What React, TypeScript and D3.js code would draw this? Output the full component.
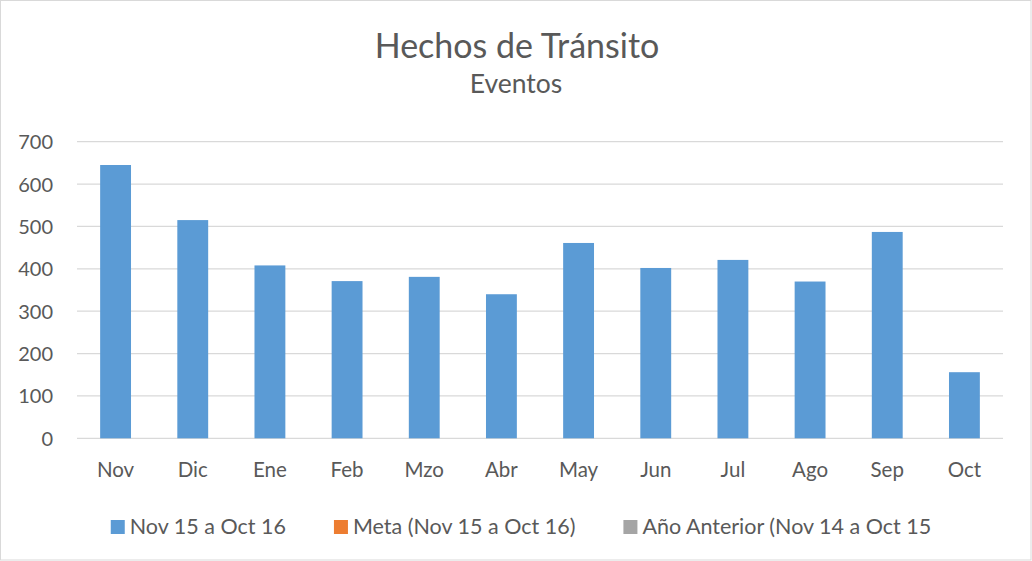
import { useEffect, useRef } from "react";
import * as d3 from 'd3';

const months = ['Nov', 'Dic', 'Ene', 'Feb', 'Mzo', 'Abr', 'May', 'Jun', 'Jul', 'Ago', 'Sep', 'Oct'];
const eventos = [645, 515, 408, 371, 381, 340, 461, 402, 421, 370, 487, 156];
const yTicks = [0, 100, 200, 300, 400, 500, 600, 700];
const legendNames = ['Nov 15 a Oct 16', 'Meta (Nov 15 a Oct 16)', 'Año Anterior (Nov 14 a Oct 15'];
const legendColors = ['#5B9BD5', '#ED7D31', '#A5A5A5'];

const W = 1032;
const H = 561;
const FONT = 'Lato, "Open Sans", sans-serif';
const TEXT = '#595959';
const GRID = '#d9d9d9';

export default function App() {
    const svgEl = useRef(null);

    useEffect(() => {
        const svg = d3.select(svgEl.current);
        svg.selectChildren().remove();

        const plot = { left: 77, right: 1003, top: 141.7, bottom: 438.3 };

        const x = d3.scaleBand()
            .domain(months)
            .range([plot.left, plot.right])
            .paddingInner(0.6)
            .paddingOuter(0.3);

        const y = d3.scaleLinear()
            .domain([0, 700])
            .range([plot.bottom, plot.top]);

        svg.append('rect')
            .attr('x', 0.5).attr('y', 0.5)
            .attr('width', W - 1.5).attr('height', H - 1.5)
            .attr('fill', 'white')
            .attr('stroke', GRID);

        // title
        svg.append('text')
            .attr('x', 517).attr('y', 57.5)
            .attr('text-anchor', 'middle')
            .attr('font-family', FONT).attr('font-size', 34)
            .attr('fill', TEXT)
            .text('Hechos de Tránsito');
        svg.append('text')
            .attr('x', 516).attr('y', 92.5)
            .attr('text-anchor', 'middle')
            .attr('font-family', FONT).attr('font-size', 26.5)
            .attr('fill', TEXT)
            .text('Eventos');

        // grid
        svg.append('g').selectAll('line').data(yTicks)
            .join('line')
            .attr('x1', plot.left).attr('x2', plot.right)
            .attr('y1', d => y(d)).attr('y2', d => y(d))
            .attr('stroke', GRID)
            .attr('stroke-width', 1.3);

        svg.append('g').selectAll('text').data(yTicks)
            .join('text')
            .attr('x', 53).attr('y', d => y(d) + 7.5)
            .attr('text-anchor', 'end')
            .attr('font-family', FONT).attr('font-size', 20)
            .attr('fill', TEXT)
            .text(d => d);

        // bars
        svg.append('g').selectAll('rect').data(eventos)
            .join('rect')
            .attr('x', (_, i) => x(months[i])!)
            .attr('width', x.bandwidth())
            .attr('y', d => y(d))
            .attr('height', d => y(0) - y(d))
            .attr('fill', legendColors[0]);

        svg.append('g').selectAll('text').data(months)
            .join('text')
            .attr('x', d => x(d)! + x.bandwidth() / 2)
            .attr('y', 476.5)
            .attr('text-anchor', 'middle')
            .attr('font-family', FONT).attr('font-size', 20.5)
            .attr('fill', TEXT)
            .text(d => d);

        // legend
        const lg = svg.append('g');
        const items = lg.selectAll('g').data(legendNames).join('g');
        items.append('rect')
            .attr('width', 14).attr('height', 14)
            .attr('y', 520)
            .attr('fill', (_, i) => legendColors[i]);
        items.append('text')
            .attr('x', 19).attr('y', 533.5)
            .attr('font-family', FONT).attr('font-size', 21.5)
            .attr('fill', TEXT)
            .text(d => d);

        let cx = 0;
        const offsets: number[] = [];
        items.each(function (_, i) {
            offsets.push(cx);
            const tw = (d3.select(this).select('text').node() as SVGTextElement).getComputedTextLength();
            cx += 19 + tw + (i < legendNames.length - 1 ? 48 : 0);
        });
        const start = 521 - cx / 2;
        items.attr('transform', (_, i) => `translate(${start + offsets[i]},0)`);
    }, []);

    return <svg ref={svgEl} width={W} height={H}
        style={{ position: 'absolute', left: 0, top: 0, display: 'block' }}>
    </svg>
}
